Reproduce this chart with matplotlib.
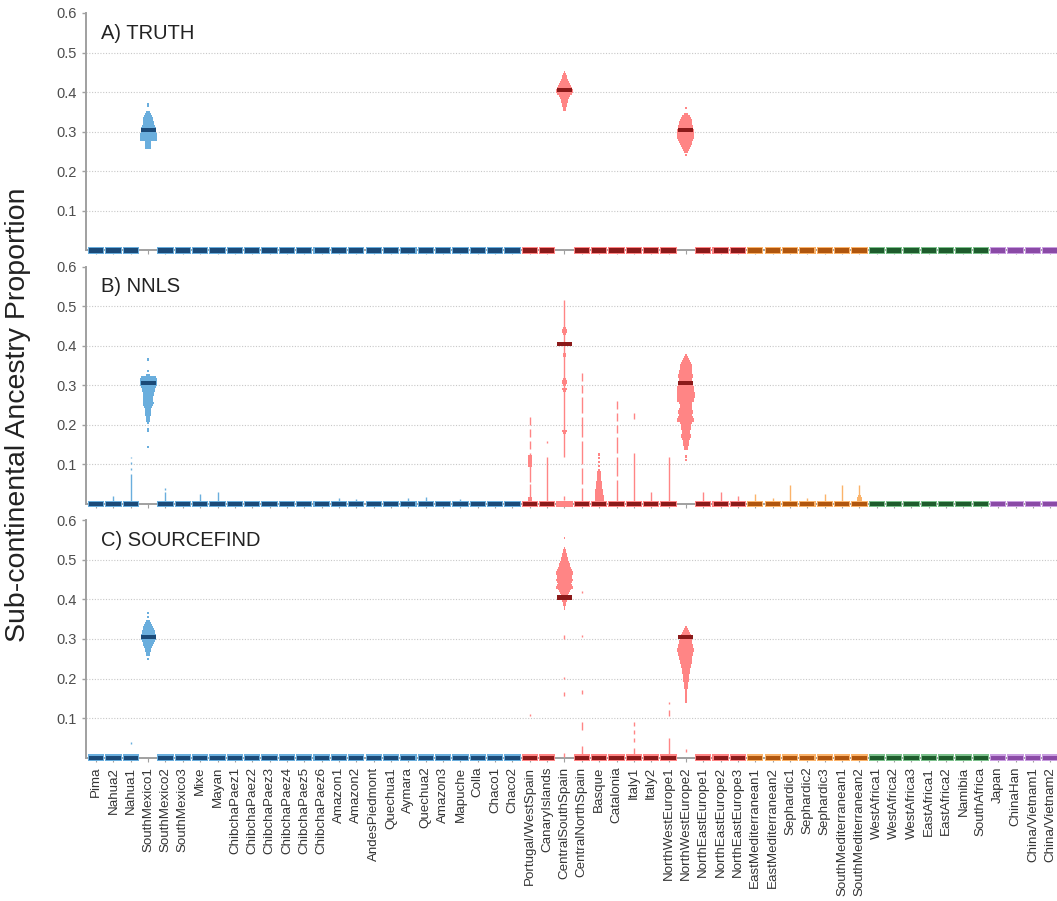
import matplotlib.pyplot as plt
import numpy as np

plt.rcParams['font.family'] = ['Liberation Sans', 'DejaVu Sans']

categories = [
    "Pima", "Nahua2", "Nahua1", "SouthMexico1", "SouthMexico2", "SouthMexico3",
    "Mixe", "Mayan", "ChibchaPaez1", "ChibchaPaez2", "ChibchaPaez3", "ChibchaPaez4",
    "ChibchaPaez5", "ChibchaPaez6", "Amazon1", "Amazon2", "AndesPiedmont", "Quechua1",
    "Aymara", "Quechua2", "Amazon3", "Mapuche", "Colla", "Chaco1", "Chaco2",
    "Portugal/WestSpain", "CanaryIslands", "CentralSouthSpain", "CentralNorthSpain",
    "Basque", "Catalonia", "Italy1", "Italy2", "NorthWestEurope1", "NorthWestEurope2",
    "NorthEastEurope1", "NorthEastEurope2", "NorthEastEurope3",
    "EastMediterranean1", "EastMediterranean2", "Sephardic1", "Sephardic2", "Sephardic3",
    "SouthMediterranean1", "SouthMediterranean2",
    "WestAfrica1", "WestAfrica2", "WestAfrica3", "EastAfrica1", "EastAfrica2",
    "Namibia", "SouthAfrica",
    "Japan", "ChinaHan", "China/Vietnam1", "China/Vietnam2",
]
group_sizes = [25, 13, 7, 7, 4]
dark_colors = ["#1b4a78", "#8b1a1a", "#b0560e", "#1e5c2c", "#8a4aa6"]
light_colors = ["#6aaedd", "#ff8585", "#fbb36a", "#7cc08c", "#c99ee0"]

# true proportions (all other populations are 0)
truth = {3: 0.305, 27: 0.405, 34: 0.305}

# ---- panel A: truth distributions ----
a_sm1_vals = [0.370, 0.365, 0.350, 0.345, 0.340, 0.335, 0.330, 0.325, 0.320, 0.315, 0.310,
              0.305, 0.300, 0.295, 0.290, 0.285, 0.280, 0.275, 0.270, 0.265, 0.260]
a_sm1_counts = [1, 1, 2, 3, 4, 5, 5, 6, 6, 7, 8, 8, 8, 9, 9, 9, 9, 3, 3, 3, 3]
a_css_vals = [0.450, 0.445, 0.440, 0.435, 0.430, 0.425, 0.420, 0.415, 0.410, 0.405,
              0.400, 0.395, 0.390, 0.385, 0.380, 0.375, 0.370, 0.365, 0.360, 0.355]
a_css_counts = [1, 2, 3, 3, 4, 5, 6, 7, 8, 9, 9, 8, 6, 5, 4, 4, 3, 3, 2, 2]
a_nwe2_vals = [0.360, 0.345, 0.340, 0.335, 0.330, 0.325, 0.320, 0.315, 0.310, 0.305, 0.300,
               0.295, 0.290, 0.285, 0.280, 0.275, 0.270, 0.265, 0.260, 0.255, 0.250, 0.240]
a_nwe2_counts = [1, 2, 4, 5, 6, 7, 7, 8, 8, 9, 9, 9, 9, 9, 8, 7, 6, 5, 4, 3, 2, 1]

# ---- panel B: NNLS ----
b_sm1_vals = [0.365, 0.335, 0.325, 0.320, 0.315, 0.310, 0.305, 0.300, 0.295, 0.290, 0.285,
              0.280, 0.275, 0.270, 0.265, 0.260, 0.255, 0.250, 0.245, 0.240, 0.235, 0.230,
              0.225, 0.220, 0.215, 0.210, 0.205, 0.190, 0.185, 0.145]
b_sm1_counts = [1, 1, 2, 8, 9, 9, 9, 9, 8, 7, 7, 6, 6, 5, 5, 5, 6, 5, 4, 3, 3, 3,
                3, 2, 2, 2, 1, 1, 1, 1]
b_css_vals = [0.445, 0.440, 0.435, 0.430, 0.380, 0.375, 0.315, 0.310, 0.305, 0.300,
              0.290, 0.285, 0.185, 0.180]
b_css_counts = [2, 3, 3, 2, 2, 2, 2, 3, 3, 2, 3, 2, 3, 2]
b_nwe2_vals = [0.375, 0.370, 0.365, 0.360, 0.355, 0.350, 0.345, 0.340, 0.335, 0.330, 0.325,
               0.320, 0.315, 0.310, 0.305, 0.300, 0.295, 0.290, 0.285, 0.280, 0.275, 0.270,
               0.265, 0.260, 0.255, 0.250, 0.245, 0.240, 0.235, 0.230, 0.225, 0.220, 0.215,
               0.210, 0.205, 0.200, 0.195, 0.190, 0.185, 0.180, 0.175, 0.170, 0.165, 0.160,
               0.155, 0.150, 0.145, 0.140, 0.120, 0.110]
b_nwe2_counts = [1, 2, 3, 4, 5, 6, 6, 6, 7, 7, 8, 8, 7, 7, 8, 8, 9, 9, 9, 10, 10, 10,
                 9, 9, 7, 6, 6, 7, 8, 8, 7, 8, 9, 9, 6, 5, 5, 5, 4, 4, 5, 5, 4, 3,
                 3, 3, 2, 2, 1, 1]
b_basque_vals = [0.125, 0.115, 0.105, 0.095, 0.085, 0.080, 0.075, 0.070, 0.065, 0.060,
                 0.055, 0.050, 0.045, 0.040, 0.035, 0.030, 0.025, 0.020, 0.015, 0.010]
b_basque_counts = [1, 1, 1, 1, 1, 2, 2, 2, 2, 2, 3, 3, 3, 3, 4, 4, 4, 5, 5, 5]
b_pws_vals = [0.120, 0.115, 0.110, 0.105, 0.100, 0.095, 0.015, 0.010]
b_pws_counts = [2, 2, 2, 2, 2, 2, 2, 2]
b_smed2_vals = [0.020, 0.015, 0.010]
b_smed2_counts = [2, 3, 3]

# thin spikes: (low, high) segments per population
b_spikes = {
    1: [(0.0, 0.02)], 2: [(0.0, 0.075), (0.085, 0.09), (0.10, 0.105), (0.115, 0.12)],
    4: [(0.0, 0.03), (0.035, 0.04)], 6: [(0.0, 0.025)], 7: [(0.0, 0.03)],
    14: [(0.0, 0.015)], 15: [(0.0, 0.012)], 18: [(0.0, 0.015)], 19: [(0.0, 0.018)],
    21: [(0.0, 0.012)],
    25: [(0.0, 0.05), (0.055, 0.13), (0.14, 0.16), (0.17, 0.19), (0.20, 0.22)],
    26: [(0.0, 0.12), (0.155, 0.16)],
    27: [(0.01, 0.02), (0.12, 0.515)],
    28: [(0.0, 0.04), (0.05, 0.09), (0.10, 0.16), (0.17, 0.22), (0.23, 0.27),
         (0.28, 0.30), (0.31, 0.33)],
    30: [(0.0, 0.06), (0.07, 0.12), (0.13, 0.17), (0.18, 0.20), (0.21, 0.23), (0.24, 0.26)],
    31: [(0.0, 0.13), (0.215, 0.23)], 32: [(0.0, 0.03)], 33: [(0.0, 0.12)],
    35: [(0.0, 0.03)], 36: [(0.0, 0.03)], 37: [(0.0, 0.02)],
    38: [(0.0, 0.025)], 39: [(0.0, 0.015)], 40: [(0.0, 0.048)], 41: [(0.0, 0.015)],
    42: [(0.0, 0.025)], 43: [(0.0, 0.048)], 44: [(0.0, 0.048)],
}

# ---- panel C: SOURCEFIND ----
c_sm1_vals = [0.365, 0.355, 0.345, 0.340, 0.335, 0.330, 0.325, 0.320, 0.315, 0.310, 0.305,
              0.300, 0.295, 0.290, 0.285, 0.280, 0.275, 0.270, 0.265, 0.260, 0.250]
c_sm1_counts = [1, 1, 2, 3, 4, 5, 6, 7, 7, 8, 8, 8, 7, 6, 5, 4, 3, 3, 2, 2, 1]
c_css_vals = [0.555, 0.530, 0.525, 0.520, 0.515, 0.510, 0.505, 0.500, 0.495, 0.490, 0.485,
              0.480, 0.475, 0.470, 0.465, 0.460, 0.455, 0.450, 0.445, 0.440, 0.435, 0.430,
              0.425, 0.420, 0.415, 0.410, 0.405, 0.400, 0.395, 0.390, 0.385, 0.380, 0.375]
c_css_counts = [1, 1, 2, 2, 3, 3, 4, 4, 5, 6, 6, 7, 8, 9, 9, 8, 8, 9, 8, 7, 8, 9,
                7, 6, 5, 4, 4, 3, 3, 2, 2, 1, 1]
c_nwe2_vals = [0.330, 0.325, 0.320, 0.315, 0.310, 0.305, 0.300, 0.295, 0.290, 0.285, 0.280,
               0.275, 0.270, 0.265, 0.260, 0.255, 0.250, 0.245, 0.240, 0.235, 0.230, 0.225,
               0.220, 0.215, 0.210, 0.205, 0.200, 0.195, 0.190, 0.185, 0.180, 0.175, 0.170,
               0.165, 0.160, 0.155, 0.150, 0.145, 0.140]
c_nwe2_counts = [1, 2, 3, 4, 5, 6, 6, 7, 7, 8, 8, 9, 9, 8, 8, 7, 7, 6, 6, 5, 5, 4,
                 4, 4, 3, 3, 3, 3, 2, 2, 2, 2, 1, 1, 1, 1, 1, 1, 1]
c_spikes = {
    2: [(0.035, 0.04)], 25: [(0.105, 0.11)],
    27: [(0.30, 0.31), (0.20, 0.205), (0.155, 0.165), (0.003, 0.012)],
    28: [(0.415, 0.42), (0.305, 0.31), (0.16, 0.17), (0.07, 0.09), (0.0, 0.03)],
    31: [(0.08, 0.09), (0.06, 0.07), (0.04, 0.05), (0.01, 0.025)],
    33: [(0.135, 0.14), (0.105, 0.12), (0.0, 0.05)],
    34: [(0.015, 0.022)],
}

panel_titles = ["A) TRUTH", "B) NNLS", "C) SOURCEFIND"]
panel_dists = [
    {3: (a_sm1_vals, a_sm1_counts), 27: (a_css_vals, a_css_counts),
     34: (a_nwe2_vals, a_nwe2_counts)},
    {3: (b_sm1_vals, b_sm1_counts), 27: (b_css_vals, b_css_counts),
     34: (b_nwe2_vals, b_nwe2_counts), 29: (b_basque_vals, b_basque_counts),
     25: (b_pws_vals, b_pws_counts), 44: (b_smed2_vals, b_smed2_counts)},
    {3: (c_sm1_vals, c_sm1_counts), 27: (c_css_vals, c_css_counts),
     34: (c_nwe2_vals, c_nwe2_counts)},
]
panel_spikes = [{}, b_spikes, c_spikes]
# populations with a block of zero estimates drawn at the baseline
panel_zero_extra = [[], [27], []]

group_idx = np.repeat(np.arange(len(group_sizes)), group_sizes)
x = np.arange(len(categories))
BIN = 0.005

fig = plt.figure(figsize=(10.57, 9.01), dpi=100)
bottoms = [0.722, 0.4406, 0.159]
height = 0.2636

for p in range(3):
    ax = fig.add_axes([0.0814, bottoms[p], 0.9186, height])
    ax.set_xlim(-0.58, 55.39)
    ax.set_ylim(0, 0.6)
    for g in [0.1, 0.2, 0.3, 0.4, 0.5]:
        ax.axhline(g, color="#c8c8c8", lw=0.8, ls=(0, (1, 1.5)), zorder=0)

    # spikes
    for i, segs in panel_spikes[p].items():
        col = light_colors[group_idx[i]]
        for lo, hi in segs:
            ax.vlines(i, lo, hi, color=col, lw=1.0, zorder=2)

    # distributions of estimates
    for i, (vals, counts) in panel_dists[p].items():
        col = light_colors[group_idx[i]]
        vals = np.array(vals)
        ax.bar(np.full(len(vals), i), height=BIN * 1.05, width=np.array(counts) * 0.108,
               bottom=vals - BIN / 2, color=col, linewidth=0, zorder=2)

    # baseline bars for zero truth / zero estimates
    zero_idx = [i for i in x if i not in truth]
    cols_l = [light_colors[group_idx[i]] for i in zero_idx]
    cols_d = [dark_colors[group_idx[i]] for i in zero_idx]
    ax.bar(zero_idx, 0.017, width=0.94, bottom=-0.0085, color=cols_l, linewidth=0,
           zorder=3, clip_on=False)
    ax.bar(zero_idx, 0.011, width=0.82, bottom=-0.0055, color=cols_d, linewidth=0,
           zorder=4, clip_on=False)
    for i in panel_zero_extra[p]:
        ax.bar(i, 0.017, width=0.94, bottom=-0.0085, color=light_colors[group_idx[i]],
               linewidth=0, zorder=3, clip_on=False)

    # truth bars for non-zero populations
    for i, v in truth.items():
        ax.bar(i, 0.011, width=0.86, bottom=v - 0.0055, color=dark_colors[group_idx[i]],
               linewidth=0, zorder=4)

    for s in ["top", "right"]:
        ax.spines[s].set_visible(False)
    ax.spines["left"].set_color("#a0a0a0")
    ax.spines["left"].set_linewidth(1.4)
    ax.spines["bottom"].set_color("#a0a0a0")
    ax.spines["bottom"].set_linewidth(1.4)
    ax.spines["bottom"].set_zorder(1)

    ax.set_yticks([0.1, 0.2, 0.3, 0.4, 0.5, 0.6])
    ax.set_yticklabels(["0.1", "0.2", "0.3", "0.4", "0.5", "0.6"])
    ax.tick_params(axis="y", colors="#a0a0a0", labelcolor="#4d4d4d", labelsize=10.5,
                   length=3, width=1)
    ax.set_xticks(x)
    ax.tick_params(axis="x", colors="#a0a0a0", length=3, width=0.8, labelcolor="#333333",
                   labelsize=9.6)
    if p == 2:
        ax.set_xticklabels(categories, rotation=90)
    else:
        ax.set_xticklabels([])

    ax.text(0.015, 0.915, panel_titles[p], transform=ax.transAxes, fontsize=14.5,
            color="#222222", va="center", ha="left")

fig.text(0.017, 0.54, "Sub-continental Ancestry Proportion", rotation=90,
         fontsize=20.5, color="#222222", va="center", ha="center")

fig.savefig("out.png", dpi=100)
